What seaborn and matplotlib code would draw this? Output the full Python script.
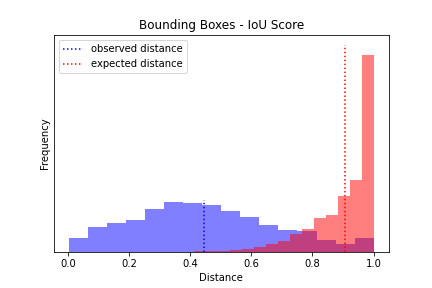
import numpy as np
import pandas as pd
import seaborn as sns
import matplotlib
matplotlib.use("Agg")
import matplotlib.pyplot as plt

# Histogram counts (arbitrary units, y ticks are hidden)
observed_counts = [14, 25, 29, 32, 43, 50, 49, 47, 41, 35, 27, 22, 21, 12, 8, 14]
expected_counts = [1.3, 1, 1, 2, 3, 5, 8, 11, 18, 23, 34, 37, 56, 72, 197]
observed_range = (0.004, 1.0)
expected_range = (0.413, 1.0)
observed_mean = 0.445
expected_mean = 0.905

obs_edges = np.linspace(*observed_range, len(observed_counts) + 1)
exp_edges = np.linspace(*expected_range, len(expected_counts) + 1)

obs = pd.DataFrame({"distance": (obs_edges[:-1] + obs_edges[1:]) / 2, "count": observed_counts})
exp = pd.DataFrame({"distance": (exp_edges[:-1] + exp_edges[1:]) / 2, "count": expected_counts})

fig, ax = plt.subplots(figsize=(6, 4), dpi=72)
fig.subplots_adjust(left=0.125, right=0.9, top=0.878, bottom=0.125)

sns.histplot(data=obs, x="distance", weights="count", bins=len(observed_counts),
             binrange=observed_range, color="blue", alpha=0.5, linewidth=0, ax=ax)
sns.histplot(data=exp, x="distance", weights="count", bins=len(expected_counts),
             binrange=expected_range, color="red", alpha=0.5, linewidth=0, ax=ax)

# Mean markers
ax.plot([observed_mean, observed_mean], [0, max(observed_counts) * 1.05],
        ":", color="blue", label="observed distance")
ax.plot([expected_mean, expected_mean], [0, max(expected_counts) * 1.05],
        ":", color="red", label="expected distance")

ax.set_title("Bounding Boxes - IoU Score")
ax.set_xlabel("Distance")
ax.set_ylabel("Frequency")
ax.set_yticks([])
ax.legend(loc="upper left")

fig.savefig("out.png", dpi=72)
